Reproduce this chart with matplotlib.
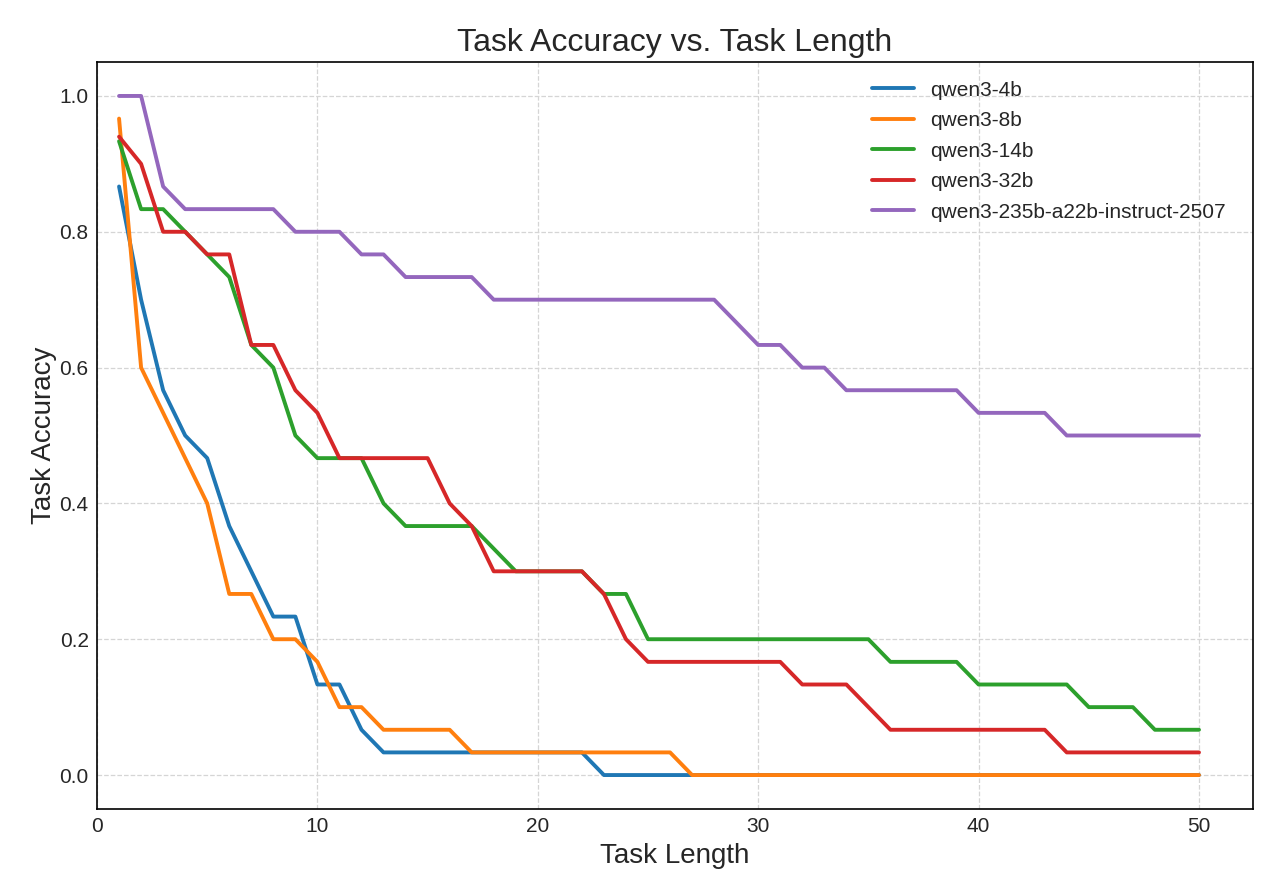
import numpy as np
import matplotlib
matplotlib.use("Agg")
import matplotlib.pyplot as plt

plt.style.use("seaborn-v0_8-whitegrid")
plt.rcParams['font.family'] = ['Liberation Sans', 'DejaVu Sans']

task_length = np.arange(1, 51)

# accuracies (mostly multiples of 1/30)
acc_4b = np.array([26, 21, 17, 15, 14, 11, 9, 7, 7, 4, 4, 2] + [1] * 10 + [0] * 28) / 30
acc_8b = np.array([29, 18, 16, 14, 12, 8, 8, 6, 6, 5, 3, 3] + [2] * 4 + [1] * 10 + [0] * 24) / 30
acc_14b = np.array([28, 25, 25, 24, 23, 22, 19, 18, 15, 14, 14, 14, 12] + [11] * 4 + [10] + [9] * 4
                   + [8, 8] + [6] * 11 + [5] * 4 + [4] * 5 + [3] * 3 + [2] * 3) / 30
acc_32b = np.array([28.2, 27, 24, 24, 23, 23, 19, 19, 17, 16] + [14] * 5 + [12, 11] + [9] * 5
                   + [8, 6] + [5] * 7 + [4] * 3 + [3] + [2] * 8 + [1] * 7) / 30
acc_235b = np.array([30, 30, 26] + [25] * 5 + [24] * 3 + [23] * 2 + [22] * 4 + [21] * 11
                    + [20, 19, 19, 18, 18] + [17] * 6 + [16] * 4 + [15] * 7) / 30

models = ["qwen3-4b", "qwen3-8b", "qwen3-14b", "qwen3-32b", "qwen3-235b-a22b-instruct-2507"]
series = [acc_4b, acc_8b, acc_14b, acc_32b, acc_235b]
colors = ["#1f77b4", "#ff7f0e", "#2ca02c", "#d62728", "#9467bd"]

fig = plt.figure(figsize=(12.8, 8.96), dpi=100)
ax = fig.add_axes([0.0758, 0.0971, 0.9031, 0.8337])
for name, acc, c in zip(models, series, colors):
    ax.plot(task_length, acc, label=name, color=c, linewidth=2.8)

ax.set_xlim(0, 52.45)
ax.set_ylim(-0.05, 1.05)
ax.set_title("Task Accuracy vs. Task Length", fontsize=23, color="#262626", pad=8)
ax.set_xlabel("Task Length", fontsize=20, color="#262626", labelpad=5)
ax.set_ylabel("Task Accuracy", fontsize=20, color="#262626", labelpad=2)
ax.tick_params(labelsize=15, colors="#262626", pad=6)
ax.grid(True, linestyle="--", color="#d5d5d5", linewidth=0.9)
for s in ax.spines.values():
    s.set_visible(True)
    s.set_color("black")
    s.set_linewidth(1.2)
ax.legend(loc="upper right", fontsize=15, frameon=False, labelspacing=0.55,
          bbox_to_anchor=(0.993, 1.0))

fig.savefig("out.png", dpi=100)
